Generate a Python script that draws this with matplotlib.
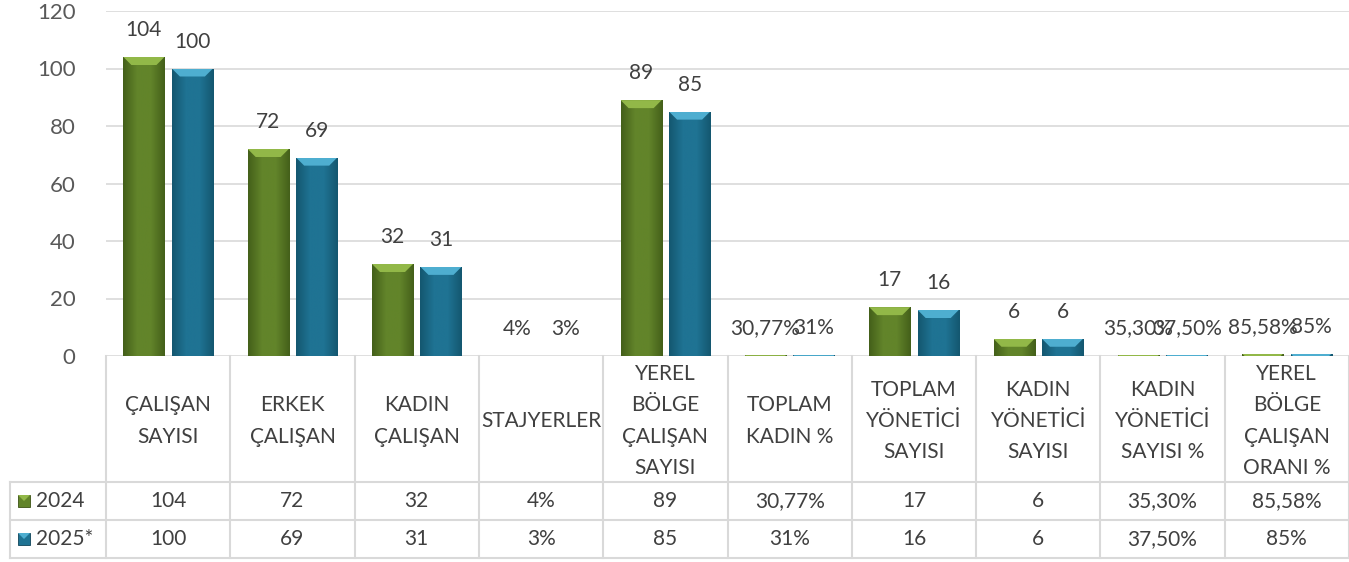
import numpy as np
import matplotlib
matplotlib.use("Agg")
import matplotlib.pyplot as plt
from matplotlib.colors import LinearSegmentedColormap
from matplotlib.patches import Polygon, Rectangle

plt.rcParams["font.family"] = ["Lato", "DejaVu Sans"]

categories = [
    "ÇALIŞAN\nSAYISI", "ERKEK\nÇALIŞAN", "KADIN\nÇALIŞAN", "STAJYERLER",
    "YEREL\nBÖLGE\nÇALIŞAN\nSAYISI", "TOPLAM\nKADIN %", "TOPLAM\nYÖNETİCİ\nSAYISI",
    "KADIN\nYÖNETİCİ\nSAYISI", "KADIN\nYÖNETİCİ\nSAYISI %", "YEREL\nBÖLGE\nÇALIŞAN\nORANI %",
]
series_names = ["2024", "2025*"]
values_2024 = [104, 72, 32, 0.04, 89, 0.3077, 17, 6, 0.353, 0.8558]
values_2025 = [100, 69, 31, 0.03, 85, 0.31, 16, 6, 0.375, 0.85]
labels_2024 = ["104", "72", "32", "4%", "89", "30,77%", "17", "6", "35,30%", "85,58%"]
labels_2025 = ["100", "69", "31", "3%", "85", "31%", "16", "6", "37,50%", "85%"]
yticks = [0, 20, 40, 60, 80, 100, 120]

# body edge / body centre / top bevel / outline
green = ("#44601a", "#62842a", "#92b848", "#3c5314")
blue = ("#145770", "#1f7393", "#4eaed0", "#0f4458")

W, H = 1349, 562
fig = plt.figure(figsize=(W / 100, H / 100), dpi=100)
left_px, right_px, zero_px, top_px = 106, 1349, 356, 11
ax = fig.add_axes([left_px / W, 1 - zero_px / H, (right_px - left_px) / W, (zero_px - top_px) / H])

n = len(categories)
x = np.arange(n)
bw, off = 0.33, 0.195
text_c = "#404040"
grid_c = "#d9d9d9"


def fancy_bars(xs, vals, labels, cols):
    cmap = LinearSegmentedColormap.from_list("g", [cols[0], cols[1], cols[1], cols[0]])
    grad = np.linspace(0, 1, 64).reshape(1, -1)
    bars = ax.bar(xs, vals, bw, color=cols[1], linewidth=0, zorder=3)
    px_per_unit = (zero_px - top_px) / 120.0
    bev_h = 8 / px_per_unit
    bev_w = 8 / 124.3
    for rect, lab in zip(bars, labels):
        x0, w, h = rect.get_x(), rect.get_width(), rect.get_height()
        im = ax.imshow(grad, cmap=cmap, aspect="auto", extent=(x0, x0 + w, 0, h), zorder=3.1)
        im.set_clip_path(rect)
        top = Polygon([(x0, h), (x0 + w, h), (x0 + w - bev_w, h - bev_h), (x0 + bev_w, h - bev_h)],
                      closed=True, facecolor=cols[2], edgecolor="none", zorder=3.2)
        ax.add_patch(top)
        top.set_clip_path(rect)
        ax.annotate(lab, (x0 + w / 2, h), xytext=(0, 12), textcoords="offset points",
                    ha="center", va="bottom", fontsize=15, color=text_c, zorder=5)


fancy_bars(x - off, values_2024, labels_2024, green)
fancy_bars(x + off, values_2025, labels_2025, blue)

ax.set_xlim(-0.5, n - 0.5)
ax.set_ylim(0, 120)
ax.set_yticks(yticks)
ax.yaxis.grid(True, color=grid_c, linewidth=1.2)
ax.set_axisbelow(True)
ax.tick_params(axis="y", length=0, labelsize=16, labelcolor="#595959", pad=22)
ax.tick_params(axis="x", length=0, labelbottom=False)
for s in ax.spines.values():
    s.set_visible(False)

# data table under the plot
tax = fig.add_axes([left_px / W, 1 - 558 / H, (right_px - left_px) / W, (558 - zero_px) / H])
tax.set_xlim(-0.5, n - 0.5)
tax.set_ylim(558, zero_px)
tax.axis("off")
row_y = [482, 520, 558]
leg_left = -0.5 - (left_px - 10) / 124.3
lkw = dict(color=grid_c, linewidth=1.5, clip_on=False)
for k in range(n + 1):
    tax.plot([k - 0.5, k - 0.5], [zero_px, 558], **lkw)
for yy in row_y:
    tax.plot([leg_left, n - 0.5], [yy, yy], **lkw)
tax.plot([leg_left, leg_left], [482, 558], **lkw)

for i, cat in enumerate(categories):
    tax.text(i, 421, cat, ha="center", va="center", fontsize=15, color=text_c, linespacing=1.7)
    tax.text(i, 501, labels_2024[i], ha="center", va="center", fontsize=15, color=text_c)
    tax.text(i, 539, labels_2025[i], ha="center", va="center", fontsize=15, color=text_c)

sq = 12 / 124.3
for name, yc, cols in [(series_names[0], 501, green), (series_names[1], 539, blue)]:
    mx = leg_left + 8 / 124.3
    tax.add_patch(Rectangle((mx, yc - 6), sq, 12, facecolor=cols[1], edgecolor=cols[3],
                            linewidth=0.6, clip_on=False))
    tax.add_patch(Polygon([(mx, yc - 6), (mx + sq, yc - 6), (mx + sq / 2, yc)], closed=True,
                          facecolor=cols[2], edgecolor="none", clip_on=False))
    tax.text(mx + sq + 6 / 124.3, yc, name, ha="left", va="center", fontsize=15, color=text_c,
             clip_on=False)

fig.savefig("out.png", dpi=100)
